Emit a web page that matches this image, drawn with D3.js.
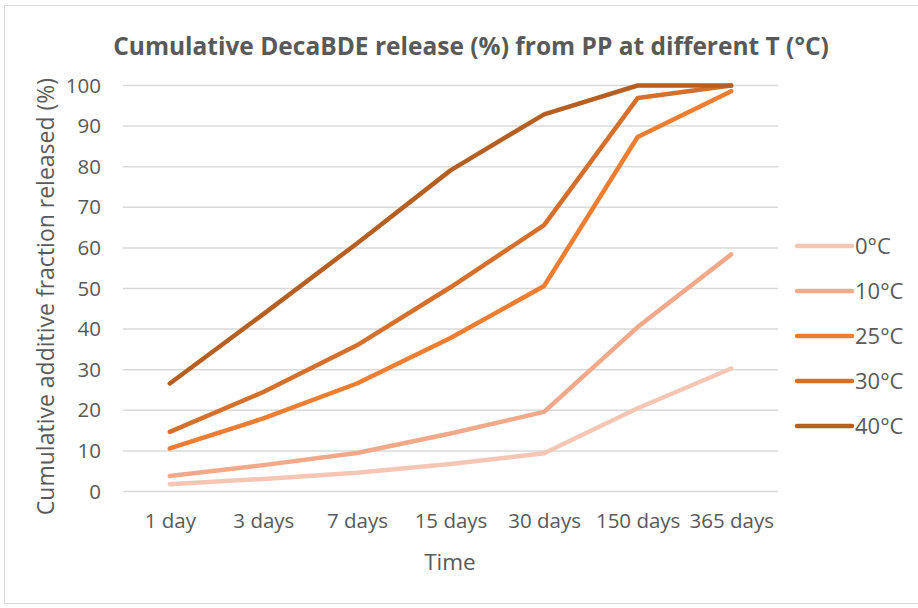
<!DOCTYPE html>
<html>
<head>
<meta charset="utf-8">
<script src="https://cdn.jsdelivr.net/npm/d3@7"></script>
<style>
  html, body { margin: 0; padding: 0; background: #fff; }
  svg { display: block; font-family: "Open Sans", "Noto Sans", sans-serif; }
</style>
</head>
<body>
<svg id="chart" width="918" height="608"></svg>
<script>
// Sampling times (x categories)
const times = ["1 day", "3 days", "7 days", "15 days", "30 days", "150 days", "365 days"];

// Cumulative release (%) per temperature
const t0  = [1.8, 3.1, 4.6, 6.8, 9.4, 20.5, 30.3];
const t10 = [3.8, 6.5, 9.5, 14.3, 19.6, 40.5, 58.4];
const t25 = [10.6, 18.0, 26.6, 37.8, 50.6, 87.3, 98.6];
const t30 = [14.7, 24.5, 36.0, 50.3, 65.6, 96.9, 100];
const t40 = [26.6, 43.7, 61.1, 79.1, 92.9, 100, 100];

const seriesNames = ["0°C", "10°C", "25°C", "30°C", "40°C"];
const seriesColors = ["#F5C6B4", "#F1A98A", "#ED7D31", "#D4702C", "#B55F22"];
const yTicks = [0, 10, 20, 30, 40, 50, 60, 70, 80, 90, 100];

const series = [t0, t10, t25, t30, t40].map((v, i) => ({
  name: seriesNames[i], color: seriesColors[i], values: v
}));

const svg = d3.select("#chart");
const textColor = "#595959";
const gridColor = "#D9D9D9";

// Chart area frame
svg.append("rect")
  .attr("x", 4.5).attr("y", 5.5)
  .attr("width", 930).attr("height", 598)
  .attr("fill", "#fff")
  .attr("stroke", gridColor).attr("stroke-width", 1);

const plot = { left: 123, right: 778, top: 85.5, bottom: 491.5 };

const x = d3.scalePoint()
  .domain(times)
  .range([plot.left, plot.right])
  .padding(0.5);

const y = d3.scaleLinear()
  .domain([0, 100])
  .range([plot.bottom, plot.top]);

// Horizontal gridlines
svg.append("g")
  .selectAll("line")
  .data(yTicks)
  .join("line")
  .attr("x1", plot.left).attr("x2", plot.right)
  .attr("y1", d => y(d)).attr("y2", d => y(d))
  .attr("stroke", gridColor).attr("stroke-width", 1.5);

// Y axis labels
const yAxis = d3.axisLeft(y).tickValues(yTicks).tickSize(0).tickPadding(0);
svg.append("g")
  .attr("transform", `translate(${plot.left - 22},0)`)
  .call(yAxis)
  .call(g => g.select(".domain").remove())
  .call(g => g.selectAll("text")
    .attr("fill", textColor)
    .attr("font-size", 20.5)
    .attr("font-family", "\"Open Sans\", sans-serif"));

// X axis labels
const xAxis = d3.axisBottom(x).tickSize(0).tickPadding(0);
svg.append("g")
  .attr("transform", `translate(0,${plot.bottom + 22})`)
  .call(xAxis)
  .call(g => g.select(".domain").remove())
  .call(g => g.selectAll("text")
    .attr("fill", textColor)
    .attr("font-size", 20.5)
    .attr("font-family", "\"Open Sans\", sans-serif"));

// Lines
const line = d3.line()
  .x((d, i) => x(times[i]))
  .y(d => y(d));

svg.append("g")
  .selectAll("path")
  .data(series)
  .join("path")
  .attr("d", d => line(d.values))
  .attr("fill", "none")
  .attr("stroke", d => d.color)
  .attr("stroke-width", 4.5)
  .attr("stroke-linecap", "round")
  .attr("stroke-linejoin", "round");

// Title
svg.append("text")
  .attr("x", 471).attr("y", 55)
  .attr("text-anchor", "middle")
  .attr("fill", textColor)
  .attr("font-size", 24.5)
  .attr("font-weight", "bold")
  .text("Cumulative DecaBDE release (%) from PP at different T (°C)");

// Axis titles
svg.append("text")
  .attr("x", 450).attr("y", 570)
  .attr("text-anchor", "middle")
  .attr("fill", textColor)
  .attr("font-size", 22.5)
  .text("Time");

svg.append("text")
  .attr("transform", `translate(54,${(plot.top + plot.bottom) / 2 + 8}) rotate(-90)`)
  .attr("text-anchor", "middle")
  .attr("fill", textColor)
  .attr("font-size", 23)
  .text("Cumulative additive fraction released (%)");

// Legend
const legend = svg.append("g")
  .selectAll("g")
  .data(series)
  .join("g")
  .attr("transform", (d, i) => `translate(797,${246 + i * 45})`);

legend.append("line")
  .attr("x1", 0).attr("x2", 55)
  .attr("y1", 0).attr("y2", 0)
  .attr("stroke", d => d.color)
  .attr("stroke-width", 4.5)
  .attr("stroke-linecap", "round");

legend.append("text")
  .attr("x", 58).attr("y", 0)
  .attr("dy", "0.35em")
  .attr("fill", textColor)
  .attr("font-size", 22)
  .text(d => d.name);
</script>
</body>
</html>
